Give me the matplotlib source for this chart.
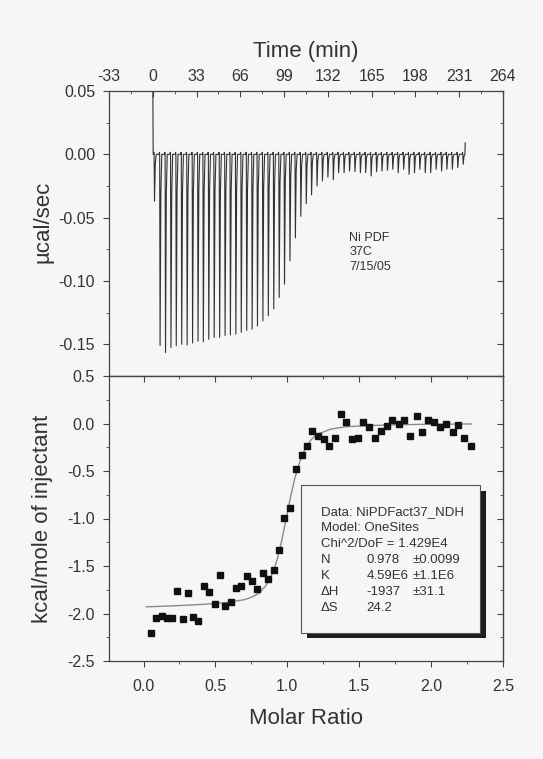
import matplotlib
matplotlib.use('Agg')
import matplotlib.pyplot as plt
from matplotlib.patches import Rectangle
from matplotlib.ticker import MultipleLocator, FormatStrFormatter

plt.rcParams['font.family'] = ['Liberation Sans', 'DejaVu Sans']
plt.rcParams['axes.unicode_minus'] = False

# raw thermogram: injection time (min) and peak depth (ucal/sec)
inj_time = [1.0, 5.2, 9.3, 13.4, 17.4, 21.5, 25.6, 29.7, 33.8, 37.8,
            41.9, 46.0, 50.1, 54.2, 58.2, 62.3, 66.4, 70.5, 74.6, 78.6,
            82.7, 86.8, 90.9, 95.0, 99.0, 103.1, 107.2, 111.3, 115.4, 119.4,
            123.5, 127.6, 131.7, 135.8, 139.8, 143.9, 148.0, 152.1, 156.2, 160.2,
            164.3, 168.4, 172.5, 176.6, 180.6, 184.7, 188.8, 192.9, 197.0, 201.0,
            205.1, 209.2, 213.3, 217.4, 221.4, 225.5, 229.6, 233.7]
inj_peak = [-0.037, -0.151, -0.1565, -0.1525, -0.151, -0.150, -0.1505, -0.149, -0.1475, -0.148,
            -0.146, -0.1445, -0.1445, -0.143, -0.1425, -0.142, -0.1405, -0.139, -0.138, -0.1355,
            -0.1315, -0.1275, -0.122, -0.113, -0.1025, -0.084, -0.066, -0.049, -0.039, -0.032,
            -0.025, -0.021, -0.018, -0.020, -0.0145, -0.0145, -0.0132, -0.0137, -0.0145, -0.0145,
            -0.0171, -0.0137, -0.0132, -0.0126, -0.0118, -0.0145, -0.0118, -0.0158, -0.0145, -0.0118,
            -0.0145, -0.0145, -0.0118, -0.0132, -0.0118, -0.0118, -0.0106, -0.0079]
trace_start = 0.06
trace_end = 0.009

# integrated heats
molar_ratio = [0.053, 0.088, 0.127, 0.166, 0.200, 0.235, 0.275, 0.310, 0.346, 0.381,
               0.418, 0.457, 0.494, 0.531, 0.568, 0.605, 0.642, 0.681, 0.718, 0.753,
               0.792, 0.829, 0.866, 0.905, 0.942, 0.979, 1.018, 1.062, 1.099, 1.138,
               1.175, 1.212, 1.253, 1.293, 1.332, 1.371, 1.410, 1.450, 1.489, 1.528,
               1.570, 1.611, 1.650, 1.690, 1.731, 1.775, 1.814, 1.856, 1.900, 1.939,
               1.980, 2.022, 2.064, 2.105, 2.149, 2.190, 2.232, 2.276]
heat = [-2.21, -2.05, -2.03, -2.05, -2.05, -1.76, -2.06, -1.785, -2.04, -2.08,
        -1.715, -1.77, -1.90, -1.59, -1.92, -1.88, -1.736, -1.71, -1.61, -1.66,
        -1.74, -1.574, -1.634, -1.54, -1.33, -0.99, -0.89, -0.48, -0.33, -0.24,
        -0.074, -0.134, -0.165, -0.232, -0.155, 0.10, 0.014, -0.165, -0.15, 0.018,
        -0.042, -0.15, -0.077, -0.025, 0.042, -0.007, 0.032, -0.134, 0.081, -0.085,
        0.035, 0.018, -0.032, 0.0, -0.085, -0.018, -0.155, -0.236]

fit_x = [0.02, 0.2, 0.4, 0.5, 0.6, 0.7, 0.75, 0.8, 0.85, 0.9, 0.93, 0.96, 0.99,
         1.02, 1.05, 1.08, 1.12, 1.16, 1.2, 1.3, 1.4, 1.6, 1.8, 2.0, 2.28]
fit_y = [-1.93, -1.92, -1.905, -1.895, -1.88, -1.855, -1.83, -1.79, -1.71, -1.57,
         -1.43, -1.24, -1.02, -0.79, -0.59, -0.43, -0.28, -0.18, -0.12, -0.06,
         -0.035, -0.02, -0.012, -0.008, -0.005]

fit_rows = [('Data: NiPDFact37_NDH', '', ''),
            ('Model: OneSites', '', ''),
            ('Chi^2/DoF = 1.429E4', '', ''),
            ('N', '0.978', '\u00b10.0099'),
            ('K', '4.59E6', '\u00b11.1E6'),
            ('\u0394H', '-1937', '\u00b131.1'),
            ('\u0394S', '24.2', '')]

paper = '#f6f6f6'
ink = '#333333'
W, H = 543, 759

fig = plt.figure(figsize=(5.43, 7.59), dpi=100, facecolor=paper)
ax1 = fig.add_axes([109 / W, 1 - 376 / H, 394 / W, 285 / H], facecolor=paper)
ax2 = fig.add_axes([109 / W, 1 - 661 / H, 394 / W, 285 / H], facecolor=paper)

for ax in (ax1, ax2):
    for s in ax.spines.values():
        s.set_color('#444444')
        s.set_linewidth(0.9)

# ---- top panel: thermogram
tx, ty = [0.0, 0.3], [trace_start, 0.0]
for t, p in zip(inj_time, inj_peak):
    tx += [t - 0.45, t - 0.2, t, t + 0.3, t + 0.9, t + 1.6]
    ty += [0.0, 0.0016, 0.0, p, p * 0.2, 0.0]
tx.append(inj_time[-1] + 1.8)
ty.append(trace_end)
ax1.plot(tx, ty, color='#333333', lw=0.8)

ax1.set_xlim(-33, 264)
ax1.set_ylim(-0.175, 0.05)
ax1.xaxis.tick_top()
ax1.xaxis.set_major_locator(MultipleLocator(33))
ax1.xaxis.set_minor_locator(MultipleLocator(16.5))
ax1.yaxis.set_major_locator(MultipleLocator(0.05))
ax1.yaxis.set_minor_locator(MultipleLocator(0.025))
ax1.yaxis.set_major_formatter(FormatStrFormatter('%.2f'))
ax1.tick_params(axis='x', which='both', direction='in', top=True, bottom=False,
                labeltop=True, labelbottom=False, colors='#444444', labelcolor=ink,
                labelsize=11.5, pad=5)
ax1.tick_params(axis='x', which='major', length=4)
ax1.tick_params(axis='x', which='minor', length=2.5)
ax1.tick_params(axis='y', which='both', direction='out', left=True, right=False,
                colors='#444444', labelcolor=ink, labelsize=11.5, pad=6)
ax1.tick_params(axis='y', which='major', length=4)
ax1.tick_params(axis='y', which='minor', length=2.5)
r1 = ax1.secondary_yaxis('right')
r1.yaxis.set_major_locator(MultipleLocator(0.05))
r1.yaxis.set_minor_locator(MultipleLocator(0.025))
r1.tick_params(which='both', direction='in', labelright=False, colors='#444444')
r1.tick_params(which='major', length=4)
r1.tick_params(which='minor', length=2.5)
r1.spines['right'].set_color('#444444')

ax1.text(148, -0.0615, 'Ni PDF\n37C\n7/15/05', fontsize=9, color=ink,
         va='top', ha='left', linespacing=1.25)
ax1.set_ylabel('\u00b5cal/sec', fontsize=16, color=ink)
ax1.yaxis.set_label_coords(-0.142, 0.54)

# ---- bottom panel: binding isotherm
ax2.plot(fit_x, fit_y, color='#8a8a8a', lw=1.0, zorder=2)
ax2.plot(molar_ratio, heat, 's', color='#111111', ms=3.8, zorder=3)

ax2.set_xlim(-0.24, 2.5)
ax2.set_ylim(-2.5, 0.5)
ax2.xaxis.set_major_locator(MultipleLocator(0.5))
ax2.xaxis.set_minor_locator(MultipleLocator(0.25))
ax2.yaxis.set_major_locator(MultipleLocator(0.5))
ax2.yaxis.set_minor_locator(MultipleLocator(0.25))
ax2.xaxis.set_major_formatter(FormatStrFormatter('%.1f'))
ax2.yaxis.set_major_formatter(FormatStrFormatter('%.1f'))
ax2.tick_params(axis='both', which='both', direction='out', top=False, right=False,
                colors='#444444', labelcolor=ink, labelsize=11.5)
ax2.tick_params(axis='x', which='both', pad=9)
ax2.tick_params(axis='y', which='both', pad=6)
ax2.tick_params(which='major', length=4)
ax2.tick_params(which='minor', length=2.5)
t2 = ax2.secondary_xaxis('top')
t2.xaxis.set_major_locator(MultipleLocator(0.5))
t2.xaxis.set_minor_locator(MultipleLocator(0.25))
t2.tick_params(which='both', direction='in', labeltop=False, colors='#444444')
t2.tick_params(which='major', length=4)
t2.tick_params(which='minor', length=2.5)
r2 = ax2.secondary_yaxis('right')
r2.yaxis.set_major_locator(MultipleLocator(0.5))
r2.yaxis.set_minor_locator(MultipleLocator(0.25))
r2.tick_params(which='both', direction='in', labelright=False, colors='#444444')
r2.tick_params(which='major', length=4)
r2.tick_params(which='minor', length=2.5)

ax2.set_ylabel('kcal/mole of injectant', fontsize=16, color=ink)
ax2.yaxis.set_label_coords(-0.142, 0.5)

# fit result box with drop shadow
ax2.add_patch(Rectangle((1.134, -2.263), 1.251, 1.548, facecolor='#1e1e1e',
                        edgecolor='none', zorder=4))
ax2.add_patch(Rectangle((1.092, -2.20), 1.251, 1.548, facecolor=paper,
                        edgecolor='#555555', lw=0.8, zorder=5))
y0 = -0.933
for i, (a, b, c) in enumerate(fit_rows):
    yy = y0 - i * 0.169
    ax2.text(1.235, yy, a, fontsize=9.5, color=ink, va='center', zorder=6)
    if b:
        ax2.text(1.551, yy, b, fontsize=9.5, color=ink, va='center', zorder=6)
    if c:
        ax2.text(1.870, yy, c, fontsize=9.5, color=ink, va='center', zorder=6)

fig.text(306 / W, 1 - 51 / H, 'Time (min)', fontsize=16, color=ink,
         ha='center', va='center')
fig.text(306 / W, 1 - 719 / H, 'Molar Ratio', fontsize=16, color=ink,
         ha='center', va='center')

fig.savefig('out.png', dpi=100, facecolor=paper)
